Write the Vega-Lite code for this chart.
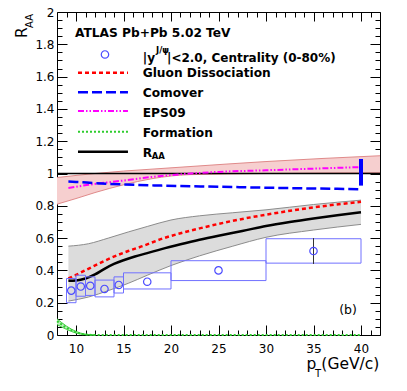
{
  "$schema": "https://vega.github.io/schema/vega-lite/v6.json",
  "width": 323,
  "height": 323,
  "autosize": "none",
  "padding": {"left": 57, "top": 12, "right": 27, "bottom": 56},
  "background": "white",
  "config": {
    "view": {"stroke": "black", "strokeWidth": 1},
    "axis": {"domain": false, "grid": false, "title": null, "tickColor": "black", "tickWidth": 1}
  },
  "datasets": {
    "points": [
      {"pt": 9.5, "lo": 0.2, "hi": 0.35, "x1": 9, "x2": 10, "raa": 0.275},
      {"pt": 10.5, "lo": 0.24, "hi": 0.37, "x1": 10, "x2": 11, "raa": 0.3},
      {"pt": 11.5, "lo": 0.245, "hi": 0.36, "x1": 11, "x2": 12, "raa": 0.305},
      {"pt": 13, "lo": 0.236, "hi": 0.34, "x1": 12, "x2": 14, "raa": 0.285},
      {"pt": 14.5, "lo": 0.26, "hi": 0.36, "x1": 14, "x2": 15, "raa": 0.31},
      {"pt": 17.5, "lo": 0.285, "hi": 0.385, "x1": 15, "x2": 20, "raa": 0.33},
      {"pt": 25, "lo": 0.337, "hi": 0.46, "x1": 20, "x2": 30, "raa": 0.4},
      {"pt": 35, "lo": 0.445, "hi": 0.596, "x1": 30, "x2": 40, "raa": 0.52}
    ],
    "errors": [
      {"pt": 35, "elo": 0.44, "ehi": 0.6}
    ],
    "comover_unc": [
      {"pt": 40, "lo": 0.925, "hi": 1.09}
    ],
    "bands": [
      {"band": "gray", "pt": 9.2, "lo": 0.21, "hi": 0.55},
      {"band": "gray", "pt": 11.3, "lo": 0.235, "hi": 0.565},
      {"band": "gray", "pt": 13.4, "lo": 0.275, "hi": 0.6},
      {"band": "gray", "pt": 15.5, "lo": 0.32, "hi": 0.638},
      {"band": "gray", "pt": 17.5, "lo": 0.37, "hi": 0.672},
      {"band": "gray", "pt": 20, "lo": 0.43, "hi": 0.712},
      {"band": "gray", "pt": 23, "lo": 0.49, "hi": 0.738},
      {"band": "gray", "pt": 26.5, "lo": 0.55, "hi": 0.757},
      {"band": "gray", "pt": 30, "lo": 0.605, "hi": 0.775},
      {"band": "gray", "pt": 35, "lo": 0.65, "hi": 0.808},
      {"band": "gray", "pt": 40, "lo": 0.685, "hi": 0.835},
      {"band": "red", "pt": 8, "lo": 0.81, "hi": 0.975},
      {"band": "red", "pt": 10, "lo": 0.845, "hi": 0.988},
      {"band": "red", "pt": 12, "lo": 0.882, "hi": 1.0},
      {"band": "red", "pt": 15, "lo": 0.93, "hi": 1.015},
      {"band": "red", "pt": 18, "lo": 0.968, "hi": 1.027},
      {"band": "red", "pt": 22, "lo": 0.993, "hi": 1.043},
      {"band": "red", "pt": 30, "lo": 1.0, "hi": 1.074},
      {"band": "red", "pt": 42, "lo": 1.005, "hi": 1.11},
      {"band": "green", "pt": 8, "lo": 0.065, "hi": 0.1},
      {"band": "green", "pt": 9, "lo": 0.035, "hi": 0.055},
      {"band": "green", "pt": 10, "lo": 0.012, "hi": 0.022},
      {"band": "green", "pt": 11, "lo": 0.002, "hi": 0.005},
      {"band": "green", "pt": 12, "lo": 0, "hi": 0}
    ],
    "curves": [
      {"series": "raa", "pt": 9.2, "v": 0.336},
      {"series": "raa", "pt": 10, "v": 0.338},
      {"series": "raa", "pt": 11, "v": 0.35},
      {"series": "raa", "pt": 12, "v": 0.375},
      {"series": "raa", "pt": 13, "v": 0.41},
      {"series": "raa", "pt": 14, "v": 0.44},
      {"series": "raa", "pt": 15, "v": 0.463},
      {"series": "raa", "pt": 16.2, "v": 0.486},
      {"series": "raa", "pt": 17.5, "v": 0.507},
      {"series": "raa", "pt": 19, "v": 0.532},
      {"series": "raa", "pt": 21, "v": 0.562},
      {"series": "raa", "pt": 23, "v": 0.59},
      {"series": "raa", "pt": 25, "v": 0.615},
      {"series": "raa", "pt": 27.5, "v": 0.644},
      {"series": "raa", "pt": 30, "v": 0.675},
      {"series": "raa", "pt": 32.5, "v": 0.7},
      {"series": "raa", "pt": 35, "v": 0.722},
      {"series": "raa", "pt": 37.5, "v": 0.742},
      {"series": "raa", "pt": 40, "v": 0.76},
      {"series": "gluon", "pt": 9.2, "v": 0.35},
      {"series": "gluon", "pt": 10, "v": 0.372},
      {"series": "gluon", "pt": 11.3, "v": 0.41},
      {"series": "gluon", "pt": 13.4, "v": 0.47},
      {"series": "gluon", "pt": 15.5, "v": 0.52},
      {"series": "gluon", "pt": 17, "v": 0.55},
      {"series": "gluon", "pt": 19, "v": 0.595},
      {"series": "gluon", "pt": 21, "v": 0.63},
      {"series": "gluon", "pt": 23, "v": 0.66},
      {"series": "gluon", "pt": 26.5, "v": 0.707},
      {"series": "gluon", "pt": 30, "v": 0.745},
      {"series": "gluon", "pt": 35, "v": 0.79},
      {"series": "gluon", "pt": 40, "v": 0.825},
      {"series": "eps09", "pt": 9.2, "v": 0.91},
      {"series": "eps09", "pt": 11.3, "v": 0.93},
      {"series": "eps09", "pt": 14.8, "v": 0.955},
      {"series": "eps09", "pt": 19, "v": 0.985},
      {"series": "eps09", "pt": 25, "v": 1.01},
      {"series": "eps09", "pt": 30, "v": 1.02},
      {"series": "eps09", "pt": 35, "v": 1.03},
      {"series": "eps09", "pt": 40, "v": 1.04},
      {"series": "comover", "pt": 9.2, "v": 0.95},
      {"series": "comover", "pt": 10, "v": 0.948},
      {"series": "comover", "pt": 12, "v": 0.94},
      {"series": "comover", "pt": 15, "v": 0.932},
      {"series": "comover", "pt": 19, "v": 0.925},
      {"series": "comover", "pt": 25, "v": 0.918},
      {"series": "comover", "pt": 30, "v": 0.912},
      {"series": "comover", "pt": 35, "v": 0.907},
      {"series": "comover", "pt": 40, "v": 0.903},
      {"series": "formation", "pt": 8, "v": 0.085},
      {"series": "formation", "pt": 8.5, "v": 0.065},
      {"series": "formation", "pt": 9, "v": 0.045},
      {"series": "formation", "pt": 9.5, "v": 0.03},
      {"series": "formation", "pt": 10, "v": 0.017},
      {"series": "formation", "pt": 10.5, "v": 0.008},
      {"series": "formation", "pt": 11, "v": 0.003},
      {"series": "formation", "pt": 12, "v": 0},
      {"series": "formation", "pt": 40, "v": 0}
    ]
  },
  "resolve": {"axis": {"x": "independent", "y": "independent"}},
  "layer": [
    {
      "data": {"name": "bands"},
      "transform": [{"filter": "datum.band === 'red'"}],
      "mark": {"type": "area", "color": "#f6cfcf", "interpolate": "monotone"},
      "encoding": {
        "x": {"field": "pt", "type": "quantitative", "scale": {"domain": [8, 42], "nice": false, "zero": false},
          "axis": {"orient": "top", "values": [10, 15, 20, 25, 30, 35, 40], "labels": false, "tickSize": -9}},
        "y": {"field": "lo", "type": "quantitative", "scale": {"domain": [0, 2], "nice": false, "zero": false},
          "axis": {"orient": "right", "values": [0, 0.2, 0.4, 0.6, 0.8, 1, 1.2, 1.4, 1.6, 1.8, 2], "labels": false, "tickSize": -10}},
        "y2": {"field": "hi"}
      }
    },
    {
      "data": {"name": "bands"},
      "transform": [{"filter": "datum.band === 'gray'"}],
      "mark": {"type": "area", "color": "#dcdcdc", "interpolate": "monotone"},
      "encoding": {
        "x": {"field": "pt", "type": "quantitative", "scale": {"domain": [8, 42], "nice": false, "zero": false},
          "axis": {"orient": "bottom", "values": [10, 15, 20, 25, 30, 35, 40], "tickSize": -10,
            "labelFont": "DejaVu Sans", "labelFontSize": 12, "labelColor": "black", "labelPadding": 27, "labelBaseline": "alphabetic",
            "labelOverlap": false, "labelBound": false, "labelFlush": false}},
        "y": {"field": "lo", "type": "quantitative", "scale": {"domain": [0, 2], "nice": false, "zero": false},
          "axis": {"orient": "left", "values": [0, 0.2, 0.4, 0.6, 0.8, 1, 1.2, 1.4, 1.6, 1.8, 2], "tickSize": -10,
            "labelExpr": "format(datum.value, '.1~f')",
            "labelFont": "DejaVu Sans", "labelFontSize": 12, "labelColor": "black", "labelPadding": 13,
            "labelOverlap": false, "labelBound": false, "labelFlush": false}},
        "y2": {"field": "hi"}
      }
    },
    {
      "data": {"name": "bands"},
      "transform": [{"filter": "datum.band === 'green'"}],
      "mark": {"type": "area", "color": "#bfefbf", "interpolate": "monotone"},
      "encoding": {
        "x": {"field": "pt", "type": "quantitative",
          "axis": {"orient": "top", "values": [9,11,12,13,14,16,17,18,19,21,22,23,24,26,27,28,29,31,32,33,34,36,37,38,39,41], "labels": false, "tickSize": -5}},
        "y": {"field": "lo", "type": "quantitative",
          "axis": {"orient": "right", "values": [0.05,0.1,0.15,0.25,0.3,0.35,0.45,0.5,0.55,0.65,0.7,0.75,0.85,0.9,0.95,1.05,1.1,1.15,1.25,1.3,1.35,1.45,1.5,1.55,1.65,1.7,1.75,1.85,1.9,1.95], "labels": false, "tickSize": -5}},
        "y2": {"field": "hi"}
      }
    },
    {
      "data": {"name": "bands"},
      "transform": [{"fold": ["lo", "hi"], "as": ["edge", "ev"]}],
      "mark": {"type": "line", "strokeWidth": 1, "interpolate": "monotone"},
      "encoding": {
        "x": {"field": "pt", "type": "quantitative",
          "axis": {"orient": "bottom", "values": [9,11,12,13,14,16,17,18,19,21,22,23,24,26,27,28,29,31,32,33,34,36,37,38,39,41], "labels": false, "tickSize": -5}},
        "y": {"field": "ev", "type": "quantitative",
          "axis": {"orient": "left", "values": [0.05,0.1,0.15,0.25,0.3,0.35,0.45,0.5,0.55,0.65,0.7,0.75,0.85,0.9,0.95,1.05,1.1,1.15,1.25,1.3,1.35,1.45,1.5,1.55,1.65,1.7,1.75,1.85,1.9,1.95], "labels": false, "tickSize": -5}},
        "detail": {"field": "edge"},
        "color": {"field": "band", "type": "nominal", "legend": null,
          "scale": {"domain": ["gray", "red", "green"], "range": ["#8c8c8c", "#e08a8a", "#3ccf3c"]}}
      }
    },
    {
      "data": {"values": [{}]},
      "mark": {"type": "rule", "color": "black", "strokeWidth": 1.5},
      "encoding": {"y": {"datum": 1, "axis": null}}
    },
    {
      "data": {"name": "curves"},
      "transform": [{"filter": "datum.series === 'formation'"}],
      "mark": {"type": "line", "color": "#2ecc2e", "strokeWidth": 2, "strokeDash": [2, 2], "interpolate": "monotone"},
      "encoding": {
        "x": {"field": "pt", "type": "quantitative", "axis": null},
        "y": {"field": "v", "type": "quantitative", "axis": null}
      }
    },
    {
      "data": {"name": "curves"},
      "transform": [{"filter": "datum.series === 'eps09'"}],
      "mark": {"type": "line", "color": "#ff00ff", "strokeWidth": 2, "strokeDash": [6, 2, 1.5, 2, 1.5, 2], "interpolate": "monotone"},
      "encoding": {
        "x": {"field": "pt", "type": "quantitative", "axis": null},
        "y": {"field": "v", "type": "quantitative", "axis": null}
      }
    },
    {
      "data": {"name": "curves"},
      "transform": [{"filter": "datum.series === 'comover'"}],
      "mark": {"type": "line", "color": "#0000ff", "strokeWidth": 2.5, "strokeDash": [10, 4], "interpolate": "monotone"},
      "encoding": {
        "x": {"field": "pt", "type": "quantitative", "axis": null},
        "y": {"field": "v", "type": "quantitative", "axis": null}
      }
    },
    {
      "data": {"name": "curves"},
      "transform": [{"filter": "datum.series === 'gluon'"}],
      "mark": {"type": "line", "color": "#ff0000", "strokeWidth": 2.5, "strokeDash": [4, 3], "interpolate": "monotone"},
      "encoding": {
        "x": {"field": "pt", "type": "quantitative", "axis": null},
        "y": {"field": "v", "type": "quantitative", "axis": null}
      }
    },
    {
      "data": {"name": "curves"},
      "transform": [{"filter": "datum.series === 'raa'"}],
      "mark": {"type": "line", "color": "#000000", "strokeWidth": 2.5, "interpolate": "monotone"},
      "encoding": {
        "x": {"field": "pt", "type": "quantitative", "axis": null},
        "y": {"field": "v", "type": "quantitative", "axis": null}
      }
    },
    {
      "data": {"name": "comover_unc"},
      "mark": {"type": "rule", "color": "#0000ff", "strokeWidth": 4},
      "encoding": {
        "x": {"field": "pt", "type": "quantitative", "axis": null},
        "y": {"field": "lo", "type": "quantitative", "axis": null},
        "y2": {"field": "hi"}
      }
    },
    {
      "data": {"name": "points"},
      "mark": {"type": "rect", "fill": "#7070ff", "fillOpacity": 0, "stroke": "#7070ff", "strokeWidth": 1},
      "encoding": {
        "x": {"field": "x1", "type": "quantitative", "axis": null},
        "x2": {"field": "x2"},
        "y": {"field": "lo", "type": "quantitative", "axis": null},
        "y2": {"field": "hi"}
      }
    },
    {
      "data": {"name": "errors"},
      "mark": {"type": "rule", "color": "#333333", "strokeWidth": 1},
      "encoding": {
        "x": {"field": "pt", "type": "quantitative", "axis": null},
        "y": {"field": "elo", "type": "quantitative", "axis": null},
        "y2": {"field": "ehi"}
      }
    },
    {
      "data": {"name": "points"},
      "mark": {"type": "point", "shape": "circle", "filled": false, "color": "#4a4aff", "strokeWidth": 1.2, "size": 55, "opacity": 1},
      "encoding": {
        "x": {"field": "pt", "type": "quantitative", "axis": null},
        "y": {"field": "raa", "type": "quantitative", "axis": null}
      }
    },
    {
      "data": {"values": [{}]},
      "mark": {"type": "text", "text": "ATLAS Pb+Pb 5.02 TeV", "align": "left", "baseline": "alphabetic", "font": "DejaVu Sans", "fontWeight": "bold", "fontSize": 12.2, "color": "black"},
      "encoding": {"x": {"datum": 9.895, "axis": null}, "y": {"datum": 1.843, "axis": null}}
    },
    {
      "data": {"values": [{}]},
      "mark": {"type": "point", "shape": "circle", "filled": false, "color": "#4a4aff", "strokeWidth": 1.2, "size": 55, "opacity": 1},
      "encoding": {"x": {"datum": 13.05, "axis": null}, "y": {"datum": 1.737, "axis": null}}
    },
    {
      "data": {"values": [{}]},
      "mark": {"type": "text", "text": "|y", "align": "left", "baseline": "alphabetic", "font": "DejaVu Sans", "fontWeight": "bold", "fontSize": 12.2, "color": "black"},
      "encoding": {"x": {"datum": 17.02, "axis": null}, "y": {"datum": 1.69, "axis": null}}
    },
    {
      "data": {"values": [{}]},
      "mark": {"type": "text", "text": "J/ψ", "align": "left", "baseline": "alphabetic", "font": "DejaVu Sans", "fontWeight": "bold", "fontSize": 8.5, "color": "black"},
      "encoding": {"x": {"datum": 18.42, "axis": null}, "y": {"datum": 1.746, "axis": null}}
    },
    {
      "data": {"values": [{}]},
      "mark": {"type": "text", "text": "|<2.0, Centrality (0-80%)", "align": "left", "baseline": "alphabetic", "font": "DejaVu Sans", "fontWeight": "bold", "fontSize": 12, "color": "black"},
      "encoding": {"x": {"datum": 19.58, "axis": null}, "y": {"datum": 1.69, "axis": null}}
    },
    {
      "data": {"values": [{}]},
      "mark": {"type": "rule", "color": "#ff0000", "strokeWidth": 2.5, "strokeDash": [4, 3]},
      "encoding": {"x": {"datum": 10.21, "axis": null}, "x2": {"datum": 15.47}, "y": {"datum": 1.624, "axis": null}}
    },
    {
      "data": {"values": [{}]},
      "mark": {"type": "text", "text": "Gluon Dissociation", "align": "left", "baseline": "alphabetic", "font": "DejaVu Sans", "fontWeight": "bold", "fontSize": 12.2, "color": "black"},
      "encoding": {"x": {"datum": 17.02, "axis": null}, "y": {"datum": 1.596, "axis": null}}
    },
    {
      "data": {"values": [{}]},
      "mark": {"type": "rule", "color": "#0000ff", "strokeWidth": 2.5, "strokeDash": [10, 4]},
      "encoding": {"x": {"datum": 10.21, "axis": null}, "x2": {"datum": 15.47}, "y": {"datum": 1.503, "axis": null}}
    },
    {
      "data": {"values": [{}]},
      "mark": {"type": "text", "text": "Comover", "align": "left", "baseline": "alphabetic", "font": "DejaVu Sans", "fontWeight": "bold", "fontSize": 12.2, "color": "black"},
      "encoding": {"x": {"datum": 17.02, "axis": null}, "y": {"datum": 1.476, "axis": null}}
    },
    {
      "data": {"values": [{}]},
      "mark": {"type": "rule", "color": "#ff00ff", "strokeWidth": 2, "strokeDash": [6, 2, 1.5, 2, 1.5, 2]},
      "encoding": {"x": {"datum": 10.21, "axis": null}, "x2": {"datum": 15.47}, "y": {"datum": 1.387, "axis": null}}
    },
    {
      "data": {"values": [{}]},
      "mark": {"type": "text", "text": "EPS09", "align": "left", "baseline": "alphabetic", "font": "DejaVu Sans", "fontWeight": "bold", "fontSize": 12.2, "color": "black"},
      "encoding": {"x": {"datum": 17.02, "axis": null}, "y": {"datum": 1.352, "axis": null}}
    },
    {
      "data": {"values": [{}]},
      "mark": {"type": "rule", "color": "#2ecc2e", "strokeWidth": 2, "strokeDash": [2, 2]},
      "encoding": {"x": {"datum": 10.21, "axis": null}, "x2": {"datum": 15.47}, "y": {"datum": 1.259, "axis": null}}
    },
    {
      "data": {"values": [{}]},
      "mark": {"type": "text", "text": "Formation", "align": "left", "baseline": "alphabetic", "font": "DejaVu Sans", "fontWeight": "bold", "fontSize": 12.2, "color": "black"},
      "encoding": {"x": {"datum": 17.02, "axis": null}, "y": {"datum": 1.228, "axis": null}}
    },
    {
      "data": {"values": [{}]},
      "mark": {"type": "rule", "color": "#000000", "strokeWidth": 2.5},
      "encoding": {"x": {"datum": 10.21, "axis": null}, "x2": {"datum": 15.47}, "y": {"datum": 1.135, "axis": null}}
    },
    {
      "data": {"values": [{}]},
      "mark": {"type": "text", "text": "R", "align": "left", "baseline": "alphabetic", "font": "DejaVu Sans", "fontWeight": "bold", "fontSize": 12.2, "color": "black"},
      "encoding": {"x": {"datum": 17.02, "axis": null}, "y": {"datum": 1.104, "axis": null}}
    },
    {
      "data": {"values": [{}]},
      "mark": {"type": "text", "text": "AA", "align": "left", "baseline": "alphabetic", "font": "DejaVu Sans", "fontWeight": "bold", "fontSize": 8.5, "color": "black"},
      "encoding": {"x": {"datum": 17.97, "axis": null}, "y": {"datum": 1.087, "axis": null}}
    },
    {
      "data": {"values": [{}]},
      "mark": {"type": "text", "text": "(b)", "align": "left", "baseline": "alphabetic", "font": "DejaVu Sans", "fontSize": 12.5, "color": "black"},
      "encoding": {"x": {"datum": 37.7, "axis": null}, "y": {"datum": 0.133, "axis": null}}
    },
    {
      "data": {"values": [{}]},
      "mark": {"type": "text", "text": "R", "align": "left", "baseline": "alphabetic", "angle": 270, "font": "DejaVu Sans", "fontSize": 15.5, "color": "black"},
      "encoding": {"x": {"datum": 4.874, "axis": null}, "y": {"datum": 1.839, "axis": null}}
    },
    {
      "data": {"values": [{}]},
      "mark": {"type": "text", "text": "AA", "align": "left", "baseline": "alphabetic", "angle": 270, "font": "DejaVu Sans", "fontSize": 10, "color": "black"},
      "encoding": {"x": {"datum": 5.47, "axis": null}, "y": {"datum": 1.901, "axis": null}}
    },
    {
      "data": {"values": [{}]},
      "mark": {"type": "text", "text": "p", "align": "left", "baseline": "alphabetic", "font": "DejaVu Sans", "fontSize": 15.5, "color": "black"},
      "encoding": {"x": {"datum": 34.26, "axis": null}, "y": {"datum": -0.2136, "axis": null}}
    },
    {
      "data": {"values": [{}]},
      "mark": {"type": "text", "text": "T", "align": "left", "baseline": "alphabetic", "font": "DejaVu Sans", "fontSize": 10, "color": "black"},
      "encoding": {"x": {"datum": 35.16, "axis": null}, "y": {"datum": -0.262, "axis": null}}
    },
    {
      "data": {"values": [{}]},
      "mark": {"type": "text", "text": "(GeV/c)", "align": "right", "baseline": "alphabetic", "font": "DejaVu Sans", "fontSize": 15.5, "color": "black"},
      "encoding": {"x": {"datum": 41.93, "axis": null}, "y": {"datum": -0.2136, "axis": null}}
    }
  ]
}
